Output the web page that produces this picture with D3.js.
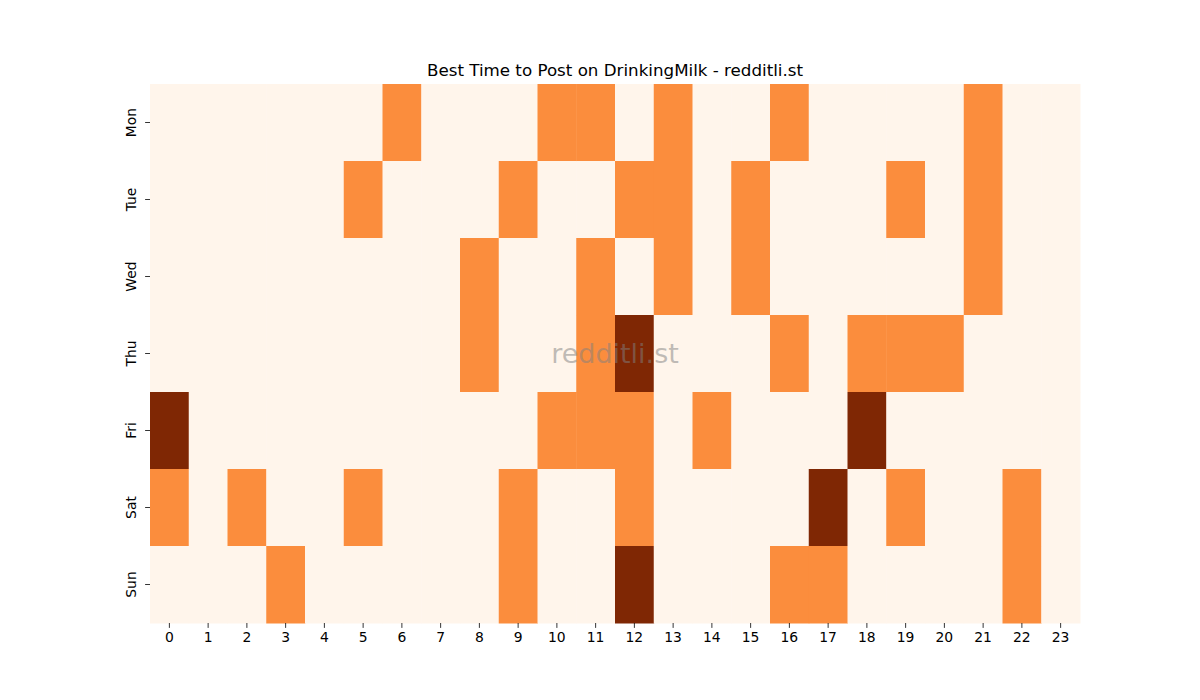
<!DOCTYPE html>
<html lang="en">
<head>
  <meta charset="UTF-8" />
  <title>Best Time to Post</title>
  <style>
    body { margin: 0; background: #fff; }
    text { font-family: "DejaVu Sans", sans-serif; fill: #000; }
    .tick line { stroke: #000; stroke-width: 0.8px; }
    .watermark { fill: #808080; fill-opacity: 0.5; }
  </style>
</head>
<body>
  <script src="https://cdn.jsdelivr.net/npm/d3@7/dist/d3.min.js"></script>
  <script>
    var hours = d3.range(24).map(String);
    var days = ["Mon", "Tue", "Wed", "Thu", "Fri", "Sat", "Sun"];

    // 0 = quiet, 1 = good, 2 = best (one row per day, 24 hours)
    var mon = [0,0,0,0,0,0,1,0,0,0,1,1,0,1,0,0,1,0,0,0,0,1,0,0];
    var tue = [0,0,0,0,0,1,0,0,0,1,0,0,1,1,0,1,0,0,0,1,0,1,0,0];
    var wed = [0,0,0,0,0,0,0,0,1,0,0,1,0,1,0,1,0,0,0,0,0,1,0,0];
    var thu = [0,0,0,0,0,0,0,0,1,0,0,1,2,0,0,0,1,0,1,1,1,0,0,0];
    var fri = [2,0,0,0,0,0,0,0,0,0,1,1,1,0,1,0,0,0,2,0,0,0,0,0];
    var sat = [1,0,1,0,0,1,0,0,0,1,0,0,1,0,0,0,0,2,0,1,0,0,1,0];
    var sun = [0,0,0,1,0,0,0,0,0,1,0,0,2,0,0,0,1,1,0,0,0,0,1,0];
    var rows = [mon, tue, wed, thu, fri, sat, sun];

    var w = 1200, h = 700;
    var margin = { top: 84, right: 120, bottom: 77, left: 150 };
    var iw = w - margin.left - margin.right;
    var ih = h - margin.top - margin.bottom;

    var cells = [];
    rows.forEach(function(r, i) {
      r.forEach(function(v, j) {
        cells.push({ day: days[i], hour: hours[j], value: v });
      });
    });

    var svg = d3.select("body").append("svg")
      .attr("width", w)
      .attr("height", h);

    var g = svg.append("g")
      .attr("transform", "translate(" + margin.left + "," + margin.top + ")");

    var xScale = d3.scaleBand().domain(hours).range([0, iw]);
    var yScale = d3.scaleBand().domain(days).range([0, ih]);
    var color = d3.scaleSequential(d3.interpolateOranges).domain([0, 2]);

    g.selectAll("rect")
      .data(cells)
      .enter()
      .append("rect")
      .attr("x", function(d) { return xScale(d.hour); })
      .attr("y", function(d) { return yScale(d.day); })
      .attr("width", xScale.bandwidth() + 0.5)
      .attr("height", yScale.bandwidth() + 0.5)
      .attr("fill", function(d) { return color(d.value); });

    var xAxis = d3.axisBottom(xScale).tickSize(4.9).tickPadding(4.4);
    var yAxis = d3.axisLeft(yScale).tickSize(4.9).tickPadding(4.4);

    var gx = g.append("g")
      .attr("transform", "translate(0," + ih + ")")
      .call(xAxis);
    gx.select(".domain").remove();
    gx.selectAll("text").style("font-size", "13.9px");

    var gy = g.append("g").call(yAxis);
    gy.select(".domain").remove();
    gy.selectAll("text")
      .style("font-size", "13.9px")
      .attr("text-anchor", "middle")
      .attr("dy", null)
      .attr("dominant-baseline", null)
      .attr("x", null)
      .attr("transform", "translate(-14,0) rotate(-90)")
      .attr("y", 0);

    svg.append("text")
      .attr("x", margin.left + iw / 2)
      .attr("y", margin.top - 8.3)
      .attr("text-anchor", "middle")
      .style("font-size", "16.7px")
      .text("Best Time to Post on DrinkingMilk - redditli.st");

    svg.append("text")
      .attr("class", "watermark")
      .attr("x", margin.left + iw / 2)
      .attr("y", margin.top + ih / 2 + 9.5)
      .attr("text-anchor", "middle")
      .style("font-size", "27px")
      .text("redditli.st");
  </script>
</body>
</html>
